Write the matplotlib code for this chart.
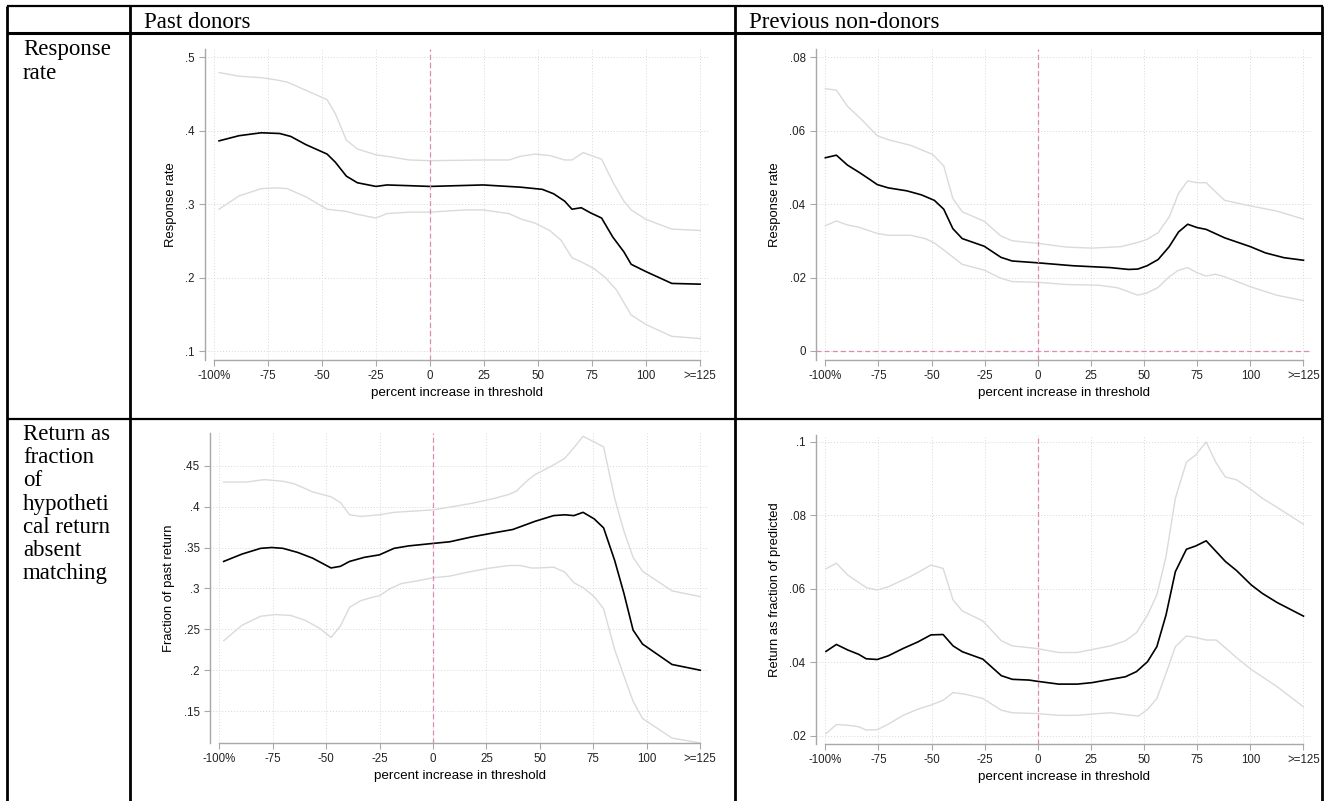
import matplotlib
matplotlib.use("Agg")
import matplotlib.pyplot as plt
from matplotlib.lines import Line2D
from matplotlib.ticker import FuncFormatter

W, H = 1329, 801

# ---------------- data ----------------
xticks = [-100, -75, -50, -25, 0, 25, 50, 75, 100, 125]
xticklabels = ["-100%", "-75", "-50", "-25", "0", "25", "50", "75", "100", ">=125"]

# Panel 1: past donors, response rate
p1_x = [-97.6, -88.4, -78.1, -69.5, -64.4, -57.5, -47.6, -43.8, -38.7, -33.6, -25.0, -19.9, -9.6, 0,
        24.6, 41.8, 52.0, 57.2, 62.3, 65.7, 70.0, 74.3, 79.4, 84.6, 89.7, 93.1, 100, 111.9, 125]
p1_y = [.386, .393, .397, .396, .392, .381, .368, .357, .338, .329, .324, .326, .325, .324,
        .326, .323, .320, .314, .304, .293, .295, .288, .281, .255, .235, .218, .208, .192, .191]
p1_ux = [-97.6, -88.4, -78.1, -71.2, -66.1, -57.5, -47.6, -43.8, -38.7, -33.6, -25.0, -19.9, -9.6, 0,
         24.6, 36.6, 41.8, 48.6, 55.4, 62.3, 65.7, 70.9, 79.4, 84.6, 89.7, 93.1, 100, 111.9, 125]
p1_u = [.479, .474, .472, .469, .466, .455, .442, .423, .387, .375, .367, .365, .360, .359,
        .360, .360, .365, .368, .366, .360, .360, .370, .361, .330, .304, .292, .279, .266, .264]
p1_lx = [-97.6, -88.4, -78.1, -71.2, -66.1, -57.5, -47.6, -38.7, -33.6, -25.0, -19.9, -9.6, 0, 16.1,
         24.6, 36.6, 41.8, 48.6, 55.4, 60.6, 65.7, 70.9, 76.0, 81.1, 86.3, 93.1, 100, 111.9, 125]
p1_l = [.293, .311, .321, .322, .321, .310, .293, .290, .286, .281, .287, .289, .289, .292,
        .292, .287, .280, .274, .264, .251, .227, .220, .212, .200, .183, .149, .136, .120, .117]

# Panel 2: previous non-donors, response rate
p2_x = [-100, -94.8, -89.6, -84.3, -79.1, -75.6, -70.4, -61.7, -54.8, -48.7, -44.3, -40.0, -35.6, -25.2,
        -17.4, -12.1, 0, 16.6, 34.0, 42.7, 47.0, 51.4, 56.6, 61.8, 66.2, 70.5, 74.9, 79.2, 87.9, 100,
        107.1, 115.8, 125]
p2_y = [.0526, .0533, .0506, .0487, .0467, .0453, .0444, .0436, .0425, .0410, .0386, .0333, .0306, .0285,
        .0255, .0245, .0240, .0232, .0227, .0222, .0223, .0232, .0249, .0284, .0324, .0345, .0336, .0331,
        .0308, .0284, .0267, .0254, .0247]
p2_ux = [-100, -94.8, -89.6, -82.6, -75.6, -70.4, -60.0, -49.5, -44.3, -40.0, -35.6, -25.2, -17.4, -12.1,
         0, 13.1, 25.3, 39.2, 47.9, 51.4, 56.6, 61.8, 66.2, 70.5, 74.9, 79.2, 84.4, 87.9, 100, 112.3, 125]
p2_u = [.0714, .0710, .0666, .0628, .0586, .0575, .0560, .0535, .0504, .0415, .0379, .0353, .0313, .0300,
        .0293, .0283, .0280, .0284, .0297, .0304, .0322, .0365, .0429, .0463, .0458, .0458, .0429, .0410,
        .0395, .0381, .0359]
p2_lx = [-100, -94.8, -89.6, -84.3, -75.6, -70.4, -60.0, -53.0, -48.7, -44.3, -35.6, -25.2, -17.4, -12.1,
         0, 13.1, 28.8, 37.5, 47.0, 51.4, 56.6, 61.8, 66.2, 70.5, 74.9, 79.2, 83.6, 87.9, 100, 112.3, 125]
p2_l = [.0341, .0354, .0343, .0337, .0320, .0315, .0315, .0306, .0294, .0275, .0236, .0220, .0198, .0189,
        .0187, .0181, .0179, .0172, .0152, .0158, .0173, .0202, .0220, .0227, .0213, .0204, .0209, .0202,
        .0175, .0152, .0137]

# Panel 3: past donors, fraction of past return
p3_x = [-97.9, -89.3, -80.6, -75.4, -70.2, -63.3, -56.3, -47.7, -43.3, -39.0, -32.1, -25.1, -18.2, -11.3,
        0, 7.8, 18.2, 28.6, 37.3, 47.7, 56.4, 61.6, 65.9, 70.2, 75.4, 79.8, 85.0, 89.3, 93.6, 98.0, 111.8, 125]
p3_y = [.333, .342, .349, .350, .349, .344, .337, .325, .327, .333, .338, .341, .349, .352,
        .355, .357, .363, .368, .372, .382, .389, .390, .389, .393, .385, .374, .334, .294, .249, .232, .207, .200]
p3_ux = [-97.9, -87.5, -78.9, -70.2, -65.0, -56.3, -47.7, -43.3, -39.0, -33.8, -25.1, -18.2, 0, 18.2,
         28.6, 35.6, 39.0, 44.2, 47.7, 56.4, 61.6, 65.9, 70.2, 75.4, 79.8, 85.0, 89.3, 93.6, 98.0, 111.8, 125]
p3_u = [.430, .430, .433, .431, .428, .418, .412, .405, .390, .388, .390, .393, .396, .404,
        .410, .415, .419, .432, .439, .451, .459, .472, .486, .479, .473, .410, .370, .338, .321, .297, .290]
p3_lx = [-97.9, -89.3, -80.6, -73.7, -66.7, -59.8, -52.9, -47.7, -43.3, -39.0, -33.8, -28.6, -25.1, -19.9,
         -14.7, -7.8, 0, 7.8, 16.5, 26.9, 35.6, 40.8, 46.0, 49.4, 56.4, 61.6, 65.9, 70.2, 75.4, 79.8, 85.0,
         89.3, 93.6, 98.0, 111.8, 125]
p3_l = [.236, .255, .266, .268, .267, .261, .251, .240, .254, .277, .285, .289, .291, .300,
        .306, .309, .313, .315, .320, .325, .328, .328, .325, .325, .326, .320, .307, .301, .290, .275, .225,
        .193, .162, .141, .117, .111]

# Panel 4: previous non-donors, return as fraction of predicted
p4_x = [-99.7, -94.8, -89.5, -84.3, -80.8, -75.6, -70.4, -63.4, -56.4, -50.3, -44.6, -39.9, -35.5, -25.9,
        -17.2, -12.0, -4.1, -0.7, 9.8, 18.5, 25.5, 34.2, 41.2, 46.4, 51.6, 56.0, 60.3, 64.7, 69.9, 74.3,
        79.2, 88.2, 93.5, 100.4, 105.6, 112.6, 125]
p4_y = [.0430, .0449, .0434, .0422, .0410, .0408, .0418, .0438, .0456, .0475, .0476, .0445, .0429, .0409,
        .0364, .0354, .0352, .0349, .0341, .0341, .0345, .0354, .0361, .0375, .0402, .0443, .0529, .0647,
        .0708, .0717, .0731, .0675, .0650, .0611, .0588, .0563, .0526]
p4_ux = [-99.7, -94.8, -89.5, -80.8, -75.6, -70.4, -59.9, -50.3, -44.6, -39.9, -35.5, -25.9, -17.2, -12.0,
         -0.7, 9.8, 18.5, 34.2, 41.2, 46.4, 51.6, 56.0, 60.3, 64.7, 69.9, 74.3, 79.2, 83.9, 88.2, 93.5,
         100.4, 105.6, 112.6, 125]
p4_u = [.0655, .0670, .0638, .0604, .0597, .0606, .0634, .0665, .0656, .0570, .0540, .0513, .0459, .0445,
        .0438, .0427, .0427, .0445, .0459, .0481, .0529, .0584, .0688, .0847, .0945, .0965, .1000, .0943,
        .0905, .0897, .0870, .0847, .0822, .0776]
p4_lx = [-99.7, -94.8, -89.5, -84.3, -80.8, -75.6, -70.4, -63.4, -56.4, -50.3, -44.6, -39.9, -33.8, -25.9,
         -17.2, -12.0, -0.7, 9.8, 18.5, 29.0, 34.2, 41.2, 47.3, 51.6, 56.0, 60.3, 64.7, 69.9, 74.3, 79.2,
         83.9, 88.2, 93.5, 100.4, 112.6, 125]
p4_l = [.0206, .0231, .0229, .0225, .0216, .0217, .0232, .0256, .0273, .0284, .0297, .0318, .0313, .0302,
        .0270, .0263, .0261, .0256, .0256, .0261, .0263, .0258, .0254, .0272, .0302, .0370, .0443, .0472,
        .0468, .0461, .0461, .0440, .0413, .0381, .0334, .0279]

col_headers = ["Past donors", "Previous non-donors"]
row_labels = ["Response\nrate", "Return as\nfraction\nof\nhypotheti\ncal return\nabsent\nmatching"]
xlabel = "percent increase in threshold"

# ---------------- figure ----------------
fig = plt.figure(figsize=(W / 100, H / 100), dpi=100)
fig.patch.set_facecolor("white")

def fx(px): return px / W
def fy(py): return 1 - py / H

def line(x0, y0, x1, y1, lw):
    fig.add_artist(Line2D([fx(x0), fx(x1)], [fy(y0), fy(y1)], color="black", lw=lw,
                          transform=fig.transFigure, solid_capstyle="butt"))

line(7, 6, 1323, 6, 1.6)
line(7, 33, 1323, 33, 2.2)
line(7, 419, 1323, 419, 1.6)
for xv in (7, 130, 735, 1322):
    line(xv, 6, xv, H, 2.0)

serif = "Liberation Serif"
fig.text(fx(144), fy(28), col_headers[0], family=serif, fontsize=16.5, va="baseline")
fig.text(fx(749), fy(28), col_headers[1], family=serif, fontsize=16.5, va="baseline")
fig.text(fx(23), fy(39), row_labels[0], family=serif, fontsize=16.5, va="top", linespacing=1.17)
fig.text(fx(23), fy(424), row_labels[1], family=serif, fontsize=16.5, va="top", linespacing=1.14)

GRAY = "#a8a8a8"
CI = "#dadada"
PINK = "#d98cb3"

def fmt(v, pos):
    s = ("%g" % round(v, 4))
    if s.startswith("0."):
        s = s[1:]
    return s

def panel(rect, xl, yl, yt, ylab, x, y, ux, u, lx, l, hzero=False):
    ax = fig.add_axes(rect)
    ax.set_xlim(*xl)
    ax.set_ylim(*yl)
    for s in ("top", "right"):
        ax.spines[s].set_visible(False)
    for s in ("left", "bottom"):
        ax.spines[s].set_color(GRAY)
        ax.spines[s].set_linewidth(1.0)
    ax.spines["bottom"].set_bounds(-100, 125)
    ax.set_xticks(xticks)
    ax.set_xticklabels(xticklabels)
    ax.set_yticks(yt)
    ax.yaxis.set_major_formatter(FuncFormatter(fmt))
    ax.tick_params(colors=GRAY, labelcolor="#222222", labelsize=8.3, length=4, width=0.8)
    ax.grid(True, color="#d8d8d8", linestyle=(0, (1, 2)), linewidth=0.7)
    ax.set_axisbelow(True)
    ax.plot(ux, u, color=CI, lw=1.0)
    ax.plot(lx, l, color=CI, lw=1.0)
    ax.plot(x, y, color="black", lw=1.2)
    ax.axvline(0, color=PINK, lw=0.9, ls=(0, (4, 2.5)), zorder=3)
    if hzero:
        ax.axhline(0, color=PINK, lw=0.9, ls=(0, (4, 2.5)), zorder=3)
    ax.set_xlabel(xlabel, fontsize=9.6, family="Liberation Sans", labelpad=3)
    ax.set_ylabel(ylab, fontsize=9.4, family="Liberation Sans", labelpad=6)
    for t in ax.get_xticklabels() + ax.get_yticklabels():
        t.set_family("Liberation Sans")
    return ax

panel([fx(205), fy(360), (709 - 205) / W, (360 - 49) / H], (-104.1, 129.1), (.0878, .511),
      [.1, .2, .3, .4, .5], "Response rate", p1_x, p1_y, p1_ux, p1_u, p1_lx, p1_l)
panel([fx(816), fy(360), (1312 - 816) / W, (360 - 49) / H], (-104.4, 129.0), (-.00245, .0822),
      [0, .02, .04, .06, .08], "Response rate", p2_x, p2_y, p2_ux, p2_u, p2_lx, p2_l, hzero=True)
panel([fx(210), fy(743), (709 - 210) / W, (743 - 433) / H], (-104.3, 129.1), (.111, .49),
      [.15, .2, .25, .3, .35, .4, .45], "Fraction of past return", p3_x, p3_y, p3_ux, p3_u, p3_lx, p3_l)
panel([fx(816), fy(744), (1312 - 816) / W, (744 - 435) / H], (-104.4, 129.0), (.0178, .1019),
      [.02, .04, .06, .08, .1], "Return as fraction of predicted", p4_x, p4_y, p4_ux, p4_u, p4_lx, p4_l)

fig.savefig("out.png", dpi=100, facecolor="white")
